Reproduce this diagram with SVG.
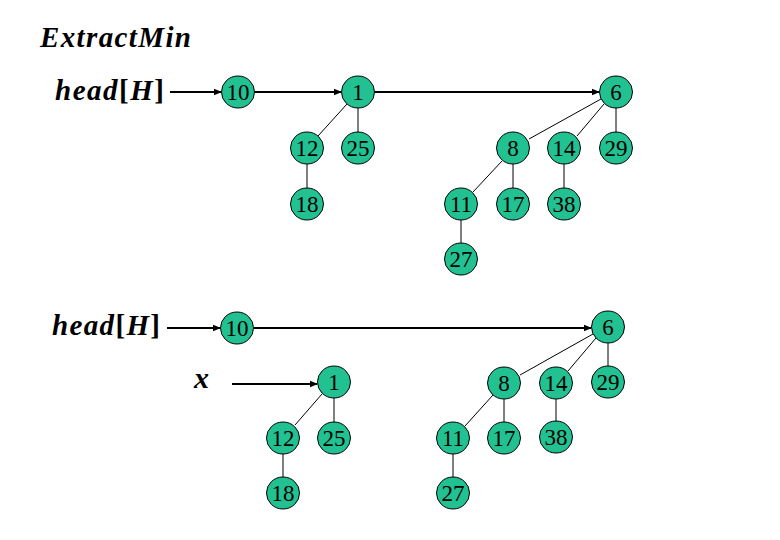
<svg xmlns="http://www.w3.org/2000/svg" width="780" height="540" viewBox="0 0 780 540">
<defs>
<marker id="ah" markerWidth="8" markerHeight="8" refX="7" refY="4" orient="auto" markerUnits="userSpaceOnUse">
<path d="M0,0.8 L8,4 L0,7.2 Z" fill="#000"/>
</marker>
<style>
.n ellipse{fill:#22c192;stroke:#000;stroke-width:1}
.n text{font-family:"Liberation Serif","Times New Roman",serif;font-size:23px;text-anchor:middle;fill:#000}
.t{font-family:"Liberation Serif","Times New Roman",serif;font-weight:bold;font-style:italic;fill:#000}
.arr{stroke:#000;stroke-width:2;fill:none;marker-end:url(#ah)}
.e{stroke:#000;stroke-width:1;fill:none}
</style>
</defs>
<rect width="780" height="540" fill="#fff"/>
<text class="t" x="40" y="47" font-size="29" textLength="151">ExtractMin</text>
<text class="t" x="55" y="100" font-size="29" textLength="109">head<tspan font-style="normal">[</tspan>H<tspan font-style="normal">]</tspan></text>
<text class="t" x="52" y="335" font-size="29" textLength="108">head<tspan font-style="normal">[</tspan>H<tspan font-style="normal">]</tspan></text>
<text class="t" x="194" y="388" font-size="30">x</text>
<g id="connectors">
<line class="arr" x1="170" y1="92" x2="221" y2="92"/>
<line class="arr" x1="255" y1="92" x2="341" y2="92"/>
<line class="arr" x1="375" y1="92" x2="599" y2="92"/>
<line class="e" x1="347" y1="104" x2="318" y2="136"/>
<line class="e" x1="358" y1="108" x2="358" y2="132"/>
<line class="e" x1="307" y1="164" x2="307" y2="188"/>
<line class="e" x1="601" y1="99" x2="529" y2="139"/>
<line class="e" x1="604" y1="104" x2="577" y2="136"/>
<line class="e" x1="616" y1="108" x2="616" y2="132"/>
<line class="e" x1="502" y1="161" x2="473" y2="192"/>
<line class="e" x1="513" y1="164" x2="513" y2="188"/>
<line class="e" x1="564" y1="164" x2="564" y2="188"/>
<line class="e" x1="461" y1="220" x2="461" y2="243"/>
<line class="arr" x1="167" y1="328" x2="220" y2="328"/>
<line class="arr" x1="254" y1="328" x2="591" y2="328"/>
<line class="arr" x1="232" y1="384" x2="317" y2="384"/>
<line class="e" x1="322" y1="394" x2="295" y2="425"/>
<line class="e" x1="334" y1="398" x2="334" y2="422"/>
<line class="e" x1="283" y1="453" x2="283" y2="477"/>
<line class="e" x1="593" y1="334" x2="520" y2="375"/>
<line class="e" x1="596" y1="338" x2="568" y2="371"/>
<line class="e" x1="608" y1="343" x2="608" y2="366"/>
<line class="e" x1="493" y1="395" x2="465" y2="426"/>
<line class="e" x1="504" y1="399" x2="504" y2="422"/>
<line class="e" x1="556" y1="399" x2="556" y2="421"/>
<line class="e" x1="453" y1="454" x2="453" y2="477"/>
</g>
<g id="t10" class="n"><ellipse cx="238" cy="92" rx="16.5" ry="16"/><text x="238" y="100">10</text></g>
<g id="t1" class="n"><ellipse cx="358" cy="92" rx="16.5" ry="16"/><text x="358" y="100">1</text></g>
<g id="t12" class="n"><ellipse cx="307" cy="148" rx="16.5" ry="16"/><text x="307" y="156">12</text></g>
<g id="t25" class="n"><ellipse cx="358" cy="148" rx="16.5" ry="16"/><text x="358" y="156">25</text></g>
<g id="t18" class="n"><ellipse cx="307" cy="204" rx="16.5" ry="16"/><text x="307" y="212">18</text></g>
<g id="t6" class="n"><ellipse cx="616" cy="92" rx="16.5" ry="16"/><text x="616" y="100">6</text></g>
<g id="t8" class="n"><ellipse cx="513" cy="148" rx="16.5" ry="16"/><text x="513" y="156">8</text></g>
<g id="t14" class="n"><ellipse cx="564" cy="148" rx="16.5" ry="16"/><text x="564" y="156">14</text></g>
<g id="t29" class="n"><ellipse cx="616" cy="148" rx="16.5" ry="16"/><text x="616" y="156">29</text></g>
<g id="t11" class="n"><ellipse cx="461" cy="204" rx="16.5" ry="16"/><text x="461" y="212">11</text></g>
<g id="t17" class="n"><ellipse cx="513" cy="204" rx="16.5" ry="16"/><text x="513" y="212">17</text></g>
<g id="t38" class="n"><ellipse cx="564" cy="204" rx="16.5" ry="16"/><text x="564" y="212">38</text></g>
<g id="t27" class="n"><ellipse cx="461" cy="259" rx="16.5" ry="16"/><text x="461" y="267">27</text></g>
<g id="b10" class="n"><ellipse cx="237" cy="328" rx="16.5" ry="16"/><text x="237" y="336">10</text></g>
<g id="b6" class="n"><ellipse cx="608" cy="327" rx="16.5" ry="16"/><text x="608" y="335">6</text></g>
<g id="b1" class="n"><ellipse cx="334" cy="382" rx="16.5" ry="16"/><text x="334" y="390">1</text></g>
<g id="b12" class="n"><ellipse cx="283" cy="438" rx="16.5" ry="16"/><text x="283" y="446">12</text></g>
<g id="b25" class="n"><ellipse cx="334" cy="438" rx="16.5" ry="16"/><text x="334" y="446">25</text></g>
<g id="b18" class="n"><ellipse cx="283" cy="493" rx="16.5" ry="16"/><text x="283" y="501">18</text></g>
<g id="b8" class="n"><ellipse cx="504" cy="383" rx="16.5" ry="16"/><text x="504" y="391">8</text></g>
<g id="b14" class="n"><ellipse cx="556" cy="383" rx="16.5" ry="16"/><text x="556" y="391">14</text></g>
<g id="b29" class="n"><ellipse cx="608" cy="382" rx="16.5" ry="16"/><text x="608" y="390">29</text></g>
<g id="b11" class="n"><ellipse cx="453" cy="438" rx="16.5" ry="16"/><text x="453" y="446">11</text></g>
<g id="b17" class="n"><ellipse cx="504" cy="438" rx="16.5" ry="16"/><text x="504" y="446">17</text></g>
<g id="b38" class="n"><ellipse cx="556" cy="437" rx="16.5" ry="16"/><text x="556" y="445">38</text></g>
<g id="b27" class="n"><ellipse cx="453" cy="493" rx="16.5" ry="16"/><text x="453" y="501">27</text></g>
</svg>
